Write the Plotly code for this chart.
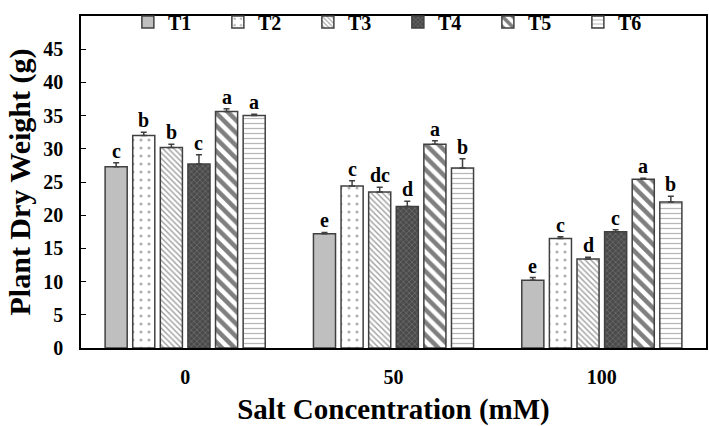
import plotly.graph_objects as go

groups = ["0", "50", "100"]
treatments = ["T1", "T2", "T3", "T4", "T5", "T6"]

# dry weight (g) per treatment, for salt 0 / 50 / 100 mM
means = {
    "T1": [27.3, 17.2, 10.2],
    "T2": [32.0, 24.4, 16.5],
    "T3": [30.2, 23.5, 13.4],
    "T4": [27.7, 21.3, 17.5],
    "T5": [35.6, 30.7, 25.4],
    "T6": [35.0, 27.1, 22.0],
}
errors = {
    "T1": [0.6, 0.2, 0.4],
    "T2": [0.5, 0.8, 0.25],
    "T3": [0.5, 0.7, 0.25],
    "T4": [1.4, 0.8, 0.3],
    "T5": [0.45, 0.5, 0.15],
    "T6": [0.2, 1.4, 0.85],
}
letters = {
    "T1": ["c", "e", "e"],
    "T2": ["b", "c", "c"],
    "T3": ["b", "dc", "d"],
    "T4": ["c", "d", "c"],
    "T5": ["a", "a", "a"],
    "T6": ["a", "b", "b"],
}

styles = {
    "T1": dict(color="#bfbfbf", pattern=dict(shape="")),
    "T2": dict(color="white", pattern=dict(shape=".", fgcolor="#606060", size=8, solidity=0.12)),
    "T3": dict(color="white", pattern=dict(shape="\\", fgcolor="#404040", size=4, solidity=0.35)),
    "T4": dict(color="#4a4a4a", pattern=dict(shape="x", fgcolor="#b0b0b0", size=4, solidity=0.25)),
    "T5": dict(color="white", pattern=dict(shape="\\", fgcolor="black", size=9, solidity=0.5)),
    "T6": dict(color="white", pattern=dict(shape="-", fgcolor="#707070", size=5, solidity=0.25)),
}

font = "Liberation Serif"
bargap = 0.205
xs = list(range(len(groups)))

fig = go.Figure()
for t in treatments:
    st = styles[t]
    fig.add_trace(go.Bar(
        name=t, x=xs, y=means[t],
        marker=dict(color=st["color"], pattern=st["pattern"],
                    line=dict(color="#404040", width=1.5)),
        error_y=dict(type="data", array=errors[t], arrayminus=[0] * 3,
                     symmetric=False, color="#404040", thickness=1.5, width=3),
    ))

# significance letters above each error bar
slot = (1 - bargap) / len(treatments)
annotations = []
for i, t in enumerate(treatments):
    for g in xs:
        annotations.append(dict(
            x=g + (i - (len(treatments) - 1) / 2) * slot,
            y=means[t][g] + errors[t][g],
            text="<b>%s</b>" % letters[t][g],
            showarrow=False, yanchor="bottom", yshift=-1,
            font=dict(family=font, size=20, color="black"),
        ))

fig.update_layout(
    width=709, height=426,
    margin=dict(l=81, r=3, t=2, b=78),
    paper_bgcolor="white", plot_bgcolor="white",
    barmode="group", bargap=bargap, bargroupgap=0.2,
    font=dict(family=font, color="black"),
    showlegend=True,
    legend=dict(orientation="h", x=0.075, y=0.982, xanchor="left", yanchor="middle",
                entrywidth=45, entrywidthmode="pixels",
                font=dict(family=font, size=20, color="black", weight="bold"),
                bgcolor="rgba(0,0,0,0)"),
    annotations=annotations,
    xaxis=dict(
        tickvals=xs, ticktext=["<b>%s</b>" % g for g in groups],
        range=[-0.5, 2.5], showline=True, linecolor="black", linewidth=1.5,
        mirror=True, ticks="", showgrid=False, zeroline=False, automargin=False,
        ticklabelstandoff=10,
        tickfont=dict(family=font, size=20, color="black"),
        title=dict(text="<b>Salt Concentration (mM)</b>",
                   font=dict(family=font, size=29, color="black")),
    ),
    yaxis=dict(
        range=[0, 50], tickvals=list(range(0, 50, 5)),
        ticktext=["<b>%d</b>" % v for v in range(0, 50, 5)],
        showline=True, linecolor="black", linewidth=1.5, mirror=True,
        ticks="inside", ticklen=5, tickcolor="black", ticklabelstandoff=12,
        showgrid=False, zeroline=False, automargin=False,
        tickfont=dict(family=font, size=20, color="black"),
        title=dict(text="<b>Plant Dry Weight (g)</b>", standoff=4,
                   font=dict(family=font, size=30, color="black")),
    ),
)

# the page's default body margin would shift the chart, so drop it
fig.write_html("out.html", config={"displayModeBar": False},
               post_script="document.body.style.margin = '0';")
